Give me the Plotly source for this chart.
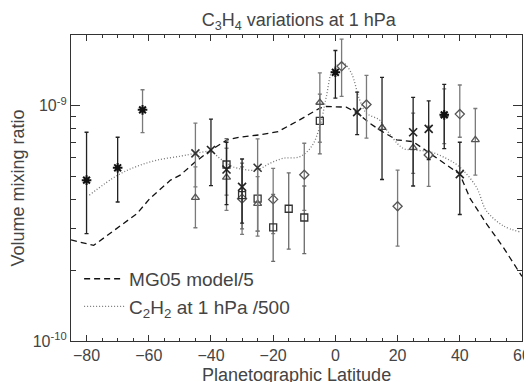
import plotly.graph_objects as go

SCALE = 1e-10  # values below are in units of 1e-10

# ---- model curves ----
model_lat = [-85, -77.7, -63.8, -59.6, -53, -49.9, -45, -40, -34.8, -31, -24.5, -18.4, -11.5,
             -5, -3, 3.5, 7.1, 11, 14.2, 19.7, 25, 30.3, 40, 43.3, 48.6, 54, 58.8, 60]
model_val = [2.69, 2.55, 3.48, 4.04, 4.83, 5.07, 5.78, 6.49, 7.16, 7.35, 7.52, 7.77, 8.71,
             9.78, 9.93, 9.87, 9.31, 8.44, 7.90, 7.16, 7.04, 6.28, 5.12, 4.04, 3.15, 2.50, 1.99, 1.88]

c2h2_lat = [-79.1, -70.0, -63.6, -57.2, -49.7, -44.9, -40.0, -37.2, -34.7, -32.9, -25.4, -21.1,
            -16.8, -11.5, -7.7, -5.0, -2.9, -0.8, 2.4, 5.1, 7.8, 10.0, 14.2, 15.3, 21.7, 24.9,
            30.3, 35.6, 39.9, 45.3, 48.5, 53.8, 59.7]
c2h2_val = [4.17, 5.07, 5.54, 5.88, 6.11, 6.28, 6.38, 5.98, 5.69, 5.50, 5.33, 5.69,
            5.98, 6.07, 6.70, 8.16, 10.96, 14.25, 15.22, 13.8, 10.61, 9.31, 8.71, 8.29, 6.60, 6.49,
            6.38, 5.98, 5.50, 4.52, 3.59, 3.10, 2.90]

# ---- observations ----
star_lat = [-80, -70, 0, 35]
star_val = [4.83, 5.45, 13.88, 9.15]
star_lo = [2.86, 3.90, 10.79, 6.57]
star_hi = [7.72, 7.35, 17.18, 12.33]

star2_lat = [-62]
star2_val = [9.61]
star2_lo = [7.69]
star2_hi = [11.7]

x_lat = [-40, -35, -30, 7, 25, 30, 40]
x_val = [6.49, 5.36, 4.52, 9.40, 7.72, 7.98, 5.12]
x_lo = [4.58, 3.80, 3.17, 7.54, 4.56, 5.90, 3.45]
x_hi = [8.77, 7.00, 5.94, 11.44, 10.85, 10.5, 7.0]

x2_lat = [-45, -25]
x2_val = [6.28, 5.45]
x2_lo = [4.52, 2.93]
x2_hi = [8.44, 7.23]

tri_lat = [-45, -35, -25, -5, 25, 35, 45]
tri_val = [4.07, 4.96, 3.84, 10.33, 6.64, 9.15, 7.16]
tri_lo = [3.03, 3.59, 2.79, 7.0, 5.16, 6.9, 5.07]
tri_hi = [5.5, 6.6, 5.0, 13.8, 9.3, 11.8, 9.74]

tri2_lat = [15]
tri2_val = [8.08]
tri2_lo = [4.86]
tri2_hi = [13.21]

sq_lat = [-35, -30, -25, -20, -15, -10, -5]
sq_val = [5.63, 4.17, 4.03, 3.04, 3.65, 3.35, 8.63]
sq_lo = [4.17, 3.0, 2.93, 2.18, 2.46, 2.35, 6.24]
sq_hi = [7.25, 5.7, 5.4, 4.2, 5.19, 4.56, 11.2]

dia_lat = [-30, -20, -10, 2, 10, 20, 30, 40]
dia_val = [4.03, 4.0, 5.09, 14.72, 10.13, 3.74, 6.18, 9.22]
dia_lo = [2.84, 2.86, 3.59, 10.96, 7.28, 2.53, 4.54, 7.35]
dia_hi = [5.5, 5.42, 6.93, 19.2, 13.47, 5.33, 8.2, 12.26]

x_ticks = [-80, -60, -40, -20, 0, 20, 40, 60]
x_minor = [-75, -70, -65, -55, -50, -45, -35, -30, -25, -15, -10, -5,
           5, 10, 15, 25, 30, 35, 45, 50, 55]
y_ticks = [1e-10, 1e-9]
y_ticktext = ["10<sup>-10</sup>", "10<sup>-9</sup>"]
y_minor = [2e-10, 3e-10, 4e-10, 5e-10, 6e-10, 7e-10, 8e-10, 9e-10, 2e-9]

FONT = "Liberation Sans, Arial, Helvetica, sans-serif"
TXT = "#444444"

fig = go.Figure()

fig.add_trace(go.Scatter(x=model_lat, y=[v * SCALE for v in model_val], mode="lines",
                         name="MG05 model/5",
                         line=dict(color="#111111", width=1.3, dash="6px,4px")))
fig.add_trace(go.Scatter(x=c2h2_lat, y=[v * SCALE for v in c2h2_val], mode="lines",
                         name="C<sub>2</sub>H<sub>2</sub> at 1 hPa /500",
                         line=dict(color="#777777", width=1.3, dash="1px,2px"),
                         line_shape="spline"))


def add_points(lat, val, lo, hi, symbol, mcolor, ecolor, size=7, lw=1.3):
    fig.add_trace(go.Scatter(
        x=lat, y=[v * SCALE for v in val], mode="markers", showlegend=False,
        marker=dict(symbol=symbol, size=size, color=mcolor,
                    line=dict(color=mcolor, width=lw)),
        error_y=dict(type="data", symmetric=False,
                     array=[(h - v) * SCALE for h, v in zip(hi, val)],
                     arrayminus=[(v - l) * SCALE for v, l in zip(val, lo)],
                     color=ecolor, thickness=1.3, width=2)))


add_points(dia_lat, dia_val, dia_lo, dia_hi, "diamond-open", "#555555", "#7a7a7a")
add_points(sq_lat, sq_val, sq_lo, sq_hi, "square-open", "#333333", "#6a6a6a")
add_points(tri_lat, tri_val, tri_lo, tri_hi, "triangle-up-open", "#555555", "#7a7a7a")
add_points(tri2_lat, tri2_val, tri2_lo, tri2_hi, "triangle-up-open", "#444444", "#222222")
add_points(x2_lat, x2_val, x2_lo, x2_hi, "x-thin-open", "#333333", "#7a7a7a", size=8, lw=1.6)
add_points(x_lat, x_val, x_lo, x_hi, "x-thin-open", "#222222", "#222222", size=8, lw=1.6)
add_points(star2_lat, star2_val, star2_lo, star2_hi, "asterisk-open", "#111111", "#7a7a7a", size=8, lw=2)
add_points(star_lat, star_val, star_lo, star_hi, "asterisk-open", "#111111", "#222222", size=8, lw=2)

axis_common = dict(showline=True, linecolor="#333333", linewidth=1.3, mirror="ticks",
                   ticks="inside", tickcolor="#333333", showgrid=False, zeroline=False,
                   automargin=False,
                   tickfont=dict(family=FONT, size=16, color=TXT))

fig.update_xaxes(range=[-85, 60], tickvals=x_ticks,
                 ticklen=6, tickwidth=1.2, ticklabelstandoff=0,
                 minor=dict(tickvals=x_minor,
                            ticks="inside", ticklen=3, tickcolor="#333333", tickwidth=1),
                 **axis_common)

fig.update_yaxes(type="log", range=[-10, -8.699], tickvals=y_ticks,
                 ticktext=y_ticktext,
                 ticklen=9, tickwidth=1.2,
                 minor=dict(tickvals=y_minor,
                            ticks="inside", ticklen=5, tickcolor="#333333", tickwidth=1),
                 title=dict(text="Volume mixing ratio",
                            font=dict(family=FONT, size=18, color=TXT), standoff=6),
                 **axis_common)

# x-axis title placed as an annotation just below the tick labels
fig.add_annotation(text="Planetographic Latitude", xref="paper", yref="paper",
                   x=0.5, y=-0.111, xanchor="center", yanchor="middle", showarrow=False,
                   font=dict(family=FONT, size=18, color=TXT))

# The page body adds an 8px offset, so the figure is 8px smaller than the window.
fig.update_layout(
    width=524, height=374,
    margin=dict(l=63, r=10, t=27, b=41),
    paper_bgcolor="white", plot_bgcolor="white",
    title=dict(text="C<sub>3</sub>H<sub>4</sub> variations at 1 hPa", x=0.555, xanchor="center",
               y=0.968, yanchor="middle", font=dict(family=FONT, size=18, color=TXT)),
    legend=dict(x=0.018, y=0.265, xanchor="left", yanchor="top", bgcolor="rgba(0,0,0,0)",
                itemwidth=40,
                font=dict(family=FONT, size=19, color=TXT)),
    showlegend=True,
)

fig.write_html("out.html")
